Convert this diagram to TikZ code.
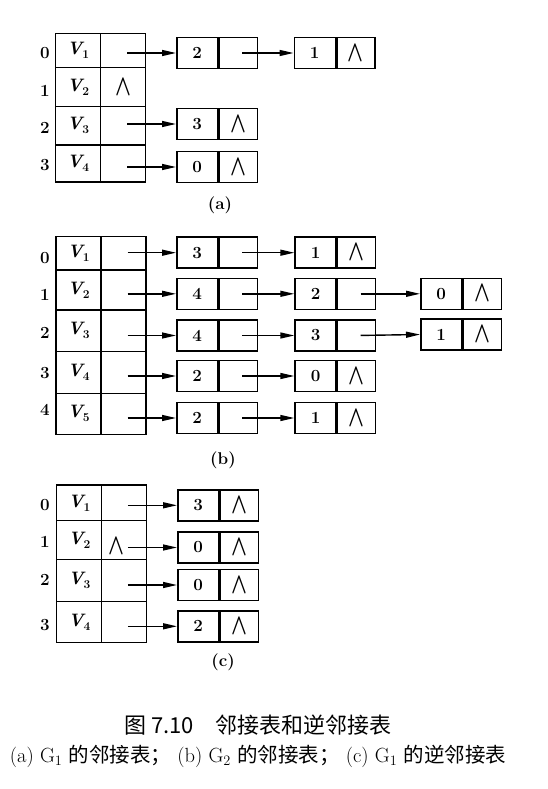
\documentclass[tikz,border=0pt]{standalone}
\usepackage{fontspec}
\usepackage{graphicx}
\newfontfamily\cjk{Noto Sans CJK SC}
\usetikzlibrary{arrows.meta}
\newcommand\nil{\scalebox{1.2}[1.7]{\boldmath$\wedge$}}
\newcommand\Vx[1]{{\fontsize{18}{20}\selectfont\textit{\textbf{V}}}\kern-2pt\raisebox{-4pt}{\fontsize{12}{14}\selectfont\textbf{#1}}}
\newcommand\hrow[7]{%
  \node[hv, minimum height=#5pt] (#1v) at (#2,#4) {#6};
  \node[hv, minimum height=#5pt] (#1p) at (#3,#4) {#7};}
\newcommand\lst[5]{%
  \node[dcell, anchor=west] (#1) at (#2,#3) {#4};
  \node[pcell, anchor=west] (#1p) at (#1.east) {#5};}
\begin{document}
\begin{tikzpicture}[x=1pt,y=-1pt,
  box/.style={draw, line width=1.5pt, inner sep=0pt, font=\fontsize{17}{19}\selectfont\bfseries},
  hv/.style={box, minimum width=45pt},
  dcell/.style={box, minimum width=41pt, minimum height=31pt},
  pcell/.style={box, minimum width=38pt, minimum height=31pt},
  arr/.style={line width=1.4pt, shorten <=4pt, -{Triangle[length=14pt,width=6pt]}},
  idx/.style={font=\fontsize{17}{19}\selectfont\bfseries, inner sep=0pt},
  sub/.style={font=\fontsize{17}{19}\selectfont\bfseries, inner sep=0pt},
  captext/.style={inner sep=0pt}]
\useasboundingbox[fill=white] (0,0) rectangle (547,789);

% ---------------- (a)
\hrow{a0}{78}{123}{50.5}{34.4}{\Vx1}{}
\hrow{a1}{78}{123}{87.1}{38.8}{\Vx2}{\nil}
\hrow{a2}{78}{123}{125.75}{38.5}{\Vx3}{}
\hrow{a3}{78}{123}{163.5}{37}{\Vx4}{}
\node[idx] (ai0) at (45,53) {0};
\node[idx] (ai1) at (45,91) {1};
\node[idx] (ai2) at (45,128) {2};
\node[idx] (ai3) at (45,165) {3};
\lst{a01}{176}{53}{2}{}
\lst{a02}{293.5}{53}{1}{\nil}
\lst{a21}{176}{124}{3}{\nil}
\lst{a31}{176}{167}{0}{\nil}
\draw[arr] (a0p.center |- a01.west) -- (a01.west);
\draw[arr] (a01p.center) -- (a02.west);
\draw[arr] (a2p.center |- a21.west) -- (a21.west);
\draw[arr] (a3p.center |- a31.west) -- (a31.west);
\node[sub] (la) at (220,205) {(a)};

% ---------------- (b)
\hrow{b0}{78.5}{123.5}{253.35}{33.3}{\Vx1}{}
\hrow{b1}{78.5}{123.5}{290}{40}{\Vx2}{}
\hrow{b2}{78.5}{123.5}{330.85}{41.7}{\Vx3}{}
\hrow{b3}{78.5}{123.5}{372.5}{41.6}{\Vx4}{}
\hrow{b4}{78.5}{123.5}{413.8}{41}{\Vx5}{}
\node[idx] (bi0) at (45,258) {0};
\node[idx] (bi1) at (45,295) {1};
\node[idx] (bi2) at (45,333) {2};
\node[idx] (bi3) at (45,373) {3};
\node[idx] (bi4) at (45,410) {4};
\lst{b01}{176}{252.7}{3}{}
\lst{b02}{294.3}{252.7}{1}{\nil}
\lst{b11}{176}{293.8}{4}{}
\lst{b12}{294.3}{293.8}{2}{}
\lst{b13}{420}{293.8}{0}{\nil}
\lst{b21}{176}{335.5}{4}{}
\lst{b22}{294.3}{335.5}{3}{}
\lst{b23}{420}{334.5}{1}{\nil}
\lst{b31}{176}{376}{2}{}
\lst{b32}{294.3}{376}{0}{\nil}
\lst{b41}{176}{418}{2}{}
\lst{b42}{294.3}{418}{1}{\nil}
\draw[arr] (b0p.center |- b01.west) -- (b01.west);
\draw[arr] (b1p.center |- b11.west) -- (b11.west);
\draw[arr] (b2p.center |- b21.west) -- (b21.west);
\draw[arr] (b3p.center |- b31.west) -- (b31.west);
\draw[arr] (b4p.center |- b41.west) -- (b41.west);
\draw[arr] (b01p.center) -- (b02.west);
\draw[arr] (b11p.center) -- (b12.west);
\draw[arr] (b12p.center) -- (b13.west);
\draw[arr] (b21p.center) -- (b22.west);
\draw[arr] (b22p.center) -- (b23.west);
\draw[arr] (b31p.center) -- (b32.west);
\draw[arr] (b41p.center) -- (b42.west);
\node[sub] (lb) at (223,460) {(b)};

% ---------------- (c)
\hrow{c0}{79.2}{123.85}{502.85}{35.7}{\Vx1}{}
\hrow{c1}{79.2}{123.85}{540}{38.6}{\Vx2}{}
\hrow{c2}{79.2}{123.85}{580.5}{42.4}{\Vx3}{}
\hrow{c3}{79.2}{123.85}{622.2}{41}{\Vx4}{}
\node[box, draw=none] (c1nil) at (116,546.5) {\nil};
\node[idx] (ci0) at (45,505) {0};
\node[idx] (ci1) at (45,541.7) {1};
\node[idx] (ci2) at (45,580) {2};
\node[idx] (ci3) at (45,625) {3};
\lst{c01}{177}{505.3}{3}{\nil}
\lst{c11}{177}{547.5}{0}{\nil}
\lst{c21}{177}{585}{0}{\nil}
\lst{c31}{177}{626.3}{2}{\nil}
\draw[arr] (c0p.center |- c01.west) -- (c01.west);
\draw[arr] (c1p.center |- c11.west) -- (c11.west);
\draw[arr] (c2p.center |- c21.west) -- (c21.west);
\draw[arr] (c3p.center |- c31.west) -- (c31.west);
\node[sub] (lc) at (223,662) {(c)};

% ---------------- caption
\node[captext] (cap1) at (258,725) {\fontsize{22}{26}\selectfont\cjk 图 7.10\hspace{1em}邻接表和逆邻接表};
\node[captext] (cap2) at (258,756) {\fontsize{20.5}{24}\selectfont (a) G\textsubscript{1} {\cjk 的邻接表；} (b) G\textsubscript{2} {\cjk 的邻接表；} (c) G\textsubscript{1} {\cjk 的逆邻接表}};
\end{tikzpicture}
\end{document}
